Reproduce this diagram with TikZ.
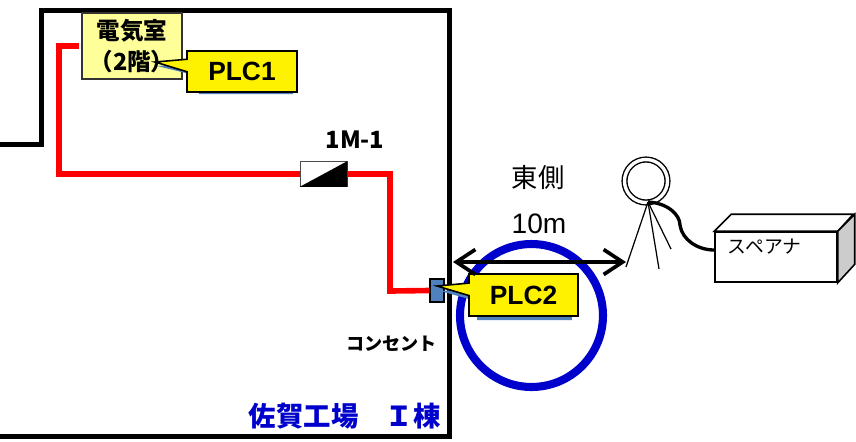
\documentclass[tikz,border=0pt]{standalone}
\usepackage{fontspec}
\usepackage{xcolor}
\usepackage{tikz}
\usetikzlibrary{shapes.callouts,arrows.meta}
\setmainfont{Liberation Sans}
\newfontfamily\jpfont{Noto Sans CJK JP}
\newcommand{\jpbold}{\jpfont\bfseries}
\definecolor{roomyellow}{HTML}{FFFF99}
\definecolor{outletblue}{HTML}{4F81BD}
\definecolor{ringblue}{HTML}{0000CC}
\definecolor{sidegray}{HTML}{CCCCCC}
\tikzset{
  wall/.style={line width=3.1pt,black},
  wire/.style={line width=3.2pt,red},
  plclabel/.style={rectangle callout,draw=black,line width=0.9pt,fill=yellow,inner sep=0pt,font=\bfseries\fontsize{15}{15}\selectfont},
  plcshadow/.style={rectangle callout,fill=outletblue,inner sep=0pt},
}
\begin{document}
\begin{tikzpicture}[x=0.02cm,y=0.02cm]
\useasboundingbox (0,0) rectangle (856,-441);
% building
\draw [wall] (0,-144.5) -- (41.5,-144.5) -- (41.5,-10.5) -- (449.5,-10.5) -- (449.5,-436.5) -- (0,-436.5);
\node [text=ringblue,font=\jpbold\fontsize{15.6}{16}\selectfont,anchor=east,inner sep=0pt] (bldg) at (441,-416) {佐賀工場　Ｉ棟};
% ring
\node [draw=ringblue,line width=4.6pt,circle,minimum size=2.86cm,inner sep=0pt] (ring) at (531.5,-315.5) {};
% room
\node [draw=black!80,line width=0.7pt,fill=roomyellow,minimum width=2cm,minimum height=1.32cm,inner sep=0pt,align=center,font=\jpbold\fontsize{13.4}{17.6}\selectfont] (room) at (132,-46) {電気室\\（2階）};
% wiring
\coordinate (wirestart) at (79,-46);
\node [draw=black!70,fill=white,line width=0.5pt,minimum width=0.94cm,minimum height=0.5cm,inner sep=0pt] (valve) at (323.5,-174) {};
\fill [black] (valve.south west) -- (valve.north east) -- (valve.south east) -- cycle;
\node [draw=black,fill=outletblue,line width=0.6pt,minimum width=0.28cm,minimum height=0.46cm,inner sep=0pt] (outlet) at (437,-290.5) {};
\draw [wire] (wirestart) -- (59,-46) -- (59,-174) -- (valve.west);
\draw [wire] (valve.east) -- (390,-174) -- (390,-291) -- (outlet.west);
\node [font=\jpbold\fontsize{13.5}{14}\selectfont,inner sep=0pt] (valvename) at (355,-140) {1M-1};
\node [font=\jpbold\fontsize{10.3}{11}\selectfont,inner sep=0pt] (outletname) at (391.5,-344) {コンセント};
% callouts
\node [plcshadow,minimum width=1.88cm,minimum height=0.78cm,callout absolute pointer={(157,-66)}] (plcAshadow) at (246,-74.5) {};
\node [plcshadow,minimum width=1.9cm,minimum height=0.8cm,callout absolute pointer={(440,-291)}] (plcBshadow) at (524.5,-300) {};
\node [plclabel,minimum width=2.2cm,minimum height=0.82cm,callout absolute pointer={(155,-62)}] (plcA) at (242,-71.5) {PLC1};
\node [plclabel,minimum width=2.18cm,minimum height=0.84cm,callout absolute pointer={(437,-286)}] (plcB) at (523.5,-295) {PLC2};
% person with spectrum analyser
\node [font=\jpfont\fontsize{15}{15}\selectfont,inner sep=0pt] (side) at (538,-178) {東側};
\node [font=\fontsize{16}{16}\selectfont,inner sep=0pt] (dist) at (539,-224) {10m};
\node [draw=black,line width=0.8pt,circle,double,double distance=1.9pt,minimum size=0.86cm,inner sep=0pt] (head) at (646,-181) {};
\coordinate (neck) at (648,-202);
\coordinate (footA) at (626,-267);
\coordinate (footB) at (659,-269);
\coordinate (footC) at (671,-249);
\draw [line width=0.7pt] (neck) -- (footA);
\draw [line width=0.7pt] (neck) -- (footB);
\draw [line width=0.7pt] (neck) -- (footC);
\coordinate (arrowend) at (626,-262);
\coordinate (arrowstart) at (453,-262);
\draw [{Straight Barb[length=0.38cm,width=0.5cm]}-{Straight Barb[length=0.38cm,width=0.5cm]},line width=2.1pt] (arrowstart) -- (arrowend);
\node [draw=black,line width=0.9pt,fill=white,minimum width=2.44cm,minimum height=1cm,inner sep=0pt] (analyser) at (776,-257) {};
\draw [line width=0.9pt,fill=white] (analyser.north west) -- ++(17,17) -- ++(122,0) -- (analyser.north east) -- cycle;
\draw [line width=0.9pt,fill=sidegray] (analyser.north east) -- ++(17,17) -- ++(0,-50) -- (analyser.south east) -- cycle;
\node [font=\jpfont\fontsize{10.7}{11}\selectfont,anchor=west,inner sep=0pt] (analysername) at (727.5,-247) {スペアナ};
\draw [line width=1.9pt] (neck) .. controls (668,-203) and (680,-215) .. (680,-225) .. controls (682,-240) and (698,-250) .. (analyser.west |- 0,-250);
\end{tikzpicture}
\end{document}
